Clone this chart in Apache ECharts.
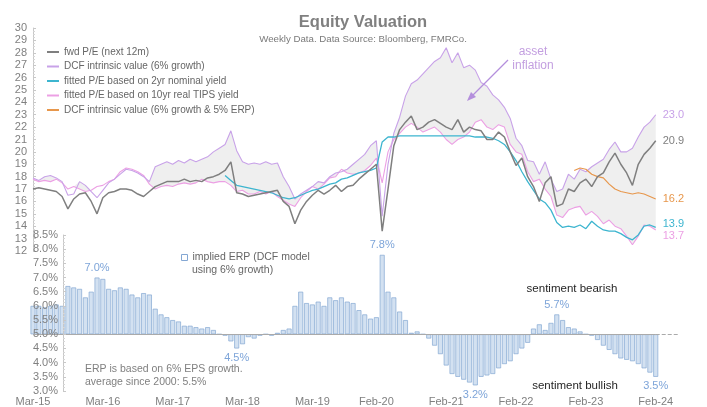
<!DOCTYPE html>
<html lang="en">
<head>
  <meta charset="UTF-8">
  <title>Equity Valuation</title>
  <script src="https://cdn.jsdelivr.net/npm/echarts@6/dist/echarts.min.js"></script>
  <style>
    html, body { margin: 0; padding: 0; background: #fff; }
    #chart { width: 707px; height: 407px; }
  </style>
</head>
<body>
  <div id="chart"></div>

  <script>
    // monthly readings, Mar-15 .. Feb-24 (index 0..107)
    const fwdPE = [17.0,17.1,17.0,16.9,16.8,16.4,15.4,16.2,16.6,16.7,16.0,15.0,
      16.3,16.7,16.8,17.0,17.0,16.9,16.6,16.4,16.8,17.2,17.4,17.6,
      17.6,17.6,17.8,17.6,17.7,17.6,17.9,18.0,18.2,18.5,19.2,16.7,
      16.6,16.4,16.5,16.6,16.7,16.8,16.9,16.0,15.6,14.2,15.3,16.0,
      16.5,16.9,16.6,16.9,17.3,16.8,17.2,17.3,17.8,18.2,18.6,19.0,
      13.6,17.0,20.5,21.8,22.4,22.9,21.8,22.0,22.4,22.6,22.3,22.0,
      21.8,22.6,21.6,22.0,21.8,21.7,21.0,21.0,21.6,21.2,20.0,18.9,
      19.5,18.0,17.2,16.0,17.5,18.0,15.6,15.8,17.0,16.8,17.5,17.8,
      17.2,18.0,18.3,19.2,19.9,19.0,18.3,17.3,19.0,19.8,20.3,20.9];
    const dcfGrowth = [17.9,17.7,18.0,18.1,17.9,17.6,16.5,16.6,17.6,17.3,16.8,16.3,
      16.9,17.5,17.8,18.2,18.6,18.5,18.3,18.0,17.6,18.8,19.0,19.2,
      19.0,19.3,19.1,19.4,19.2,19.4,19.6,20.0,20.3,20.6,21.7,20.1,
      19.2,19.0,19.1,19.0,19.2,19.0,19.1,18.0,17.2,16.2,16.6,16.9,
      17.2,17.6,17.5,18.0,18.3,18.4,18.6,19.0,19.4,19.8,20.5,20.9,
      14.8,19.0,21.5,22.8,24.5,25.5,25.8,26.3,26.8,27.3,27.6,28.4,
      27.2,28.0,26.8,27.0,26.6,25.6,25.3,24.6,24.2,23.6,22.7,21.1,
      20.5,19.3,19.2,18.2,19.2,17.8,16.8,17.0,18.2,17.8,18.6,18.4,
      18.8,19.1,19.4,20.2,20.8,20.0,20.0,20.3,21.2,22.0,22.4,23.0];
    const tipsFit = [17.8,17.6,17.7,17.6,17.8,17.5,17.0,17.2,17.0,16.8,16.9,17.2,
      17.3,17.6,17.8,18.4,18.7,18.6,18.4,18.1,17.4,17.0,17.2,17.3,
      17.2,17.4,17.5,17.4,17.5,17.8,17.6,17.5,17.6,17.6,17.3,16.8,
      16.9,16.6,16.6,16.8,16.6,16.8,16.4,16.1,15.8,15.6,16.3,16.8,
      17.2,17.0,17.4,17.9,18.0,18.6,18.3,18.2,18.3,18.5,18.9,19.5,
      17.5,20.0,21.0,21.5,22.0,22.3,22.0,21.6,21.8,22.0,21.6,21.0,
      20.6,21.0,21.2,21.6,22.4,22.6,22.0,21.8,22.2,22.0,20.6,20.0,
      19.8,18.4,17.6,17.8,17.0,16.4,14.9,14.7,15.3,15.5,15.6,14.9,
      15.2,14.8,14.2,14.5,14.0,13.8,13.2,12.5,13.2,14.1,14.0,13.7];
    // fitted P/E on 2yr nominal yield starts Dec-17 (index 33)
    const nominalStart = 33;
    const nominal2y = [18.1,17.7,17.3,17.2,17.1,17.0,16.9,16.8,16.7,16.5,16.3,16.2,
      16.3,16.5,16.7,16.9,17.0,17.2,17.4,17.5,17.8,17.9,18.1,18.3,18.4,18.5,18.7,
      20.8,21.2,21.2,21.3,21.3,21.3,21.3,21.3,21.3,21.3,21.3,21.3,21.3,21.3,21.3,21.3,
      21.2,21.2,21.2,21.1,20.9,20.6,20.0,19.3,18.4,17.6,16.9,16.2,15.9,15.3,14.3,
      13.9,14.0,13.9,14.1,13.8,14.4,14.0,13.7,13.6,13.6,13.4,13.1,12.9,13.3,14.0,14.1,13.9];
    // DCF with 5% ERP starts Dec-22 (index 93)
    const erpStart = 93;
    const dcfErp = [18.5,18.7,18.6,18.2,18.0,17.9,17.4,17.0,16.8,16.7,16.6,16.7,16.6,16.4,16.2];
    // implied ERP, %
    const erp = [6.0,6.0,5.95,6.0,6.05,6.0,6.7,6.65,6.6,6.3,6.5,7.0,
      6.95,6.6,6.55,6.65,6.6,6.4,6.3,6.45,6.4,5.9,5.7,5.6,
      5.5,5.45,5.3,5.3,5.25,5.2,5.25,5.15,5.0,4.95,4.75,4.5,
      4.65,4.9,4.85,4.95,5.0,4.95,5.05,5.15,5.2,6.0,6.5,6.1,
      6.05,6.15,6.0,6.3,6.2,6.3,6.15,6.1,5.85,5.7,5.55,5.6,
      7.8,6.5,6.3,5.8,5.5,5.05,5.1,5.0,4.85,4.6,4.3,3.9,
      3.6,3.5,3.4,3.3,3.2,3.5,3.55,3.6,3.8,3.95,4.05,4.3,
      4.5,4.7,5.2,5.35,5.15,5.4,5.7,5.5,5.25,5.2,5.1,5.0,
      4.95,4.8,4.6,4.45,4.3,4.15,4.1,4.05,3.95,3.8,3.65,3.5];
    const erpNotes = [11, 35, 60, 76, 90, 107];
    const erpBase = 5.0;

    const tickLabels = ['Mar-15','Mar-16','Mar-17','Mar-18','Mar-19','Feb-20','Feb-21','Feb-22','Feb-23','Feb-24'];
    const monthNames = ['Jan','Feb','Mar','Apr','May','Jun','Jul','Aug','Sep','Oct','Nov','Dec'];
    const months = [];
    for (let i = 0; i < 112; i++) {
      const m = 2 + i;
      months.push(monthNames[m % 12] + '-' + (15 + Math.floor(m / 12)));
    }

    const FONT = 'Liberation Sans, Arial, sans-serif';
    const GREY = '#808080';
    const C = {
      pe: '#7f7f7f', dcf: '#c8a2e8', nom: '#3db5cf', tips: '#eca0e4', erp5: '#e7974c',
      barFill: '#d3e1f1', barLine: '#84a7d3', note: '#7ea5d9'
    };

    const pad = (start, arr) => new Array(start).fill(null).concat(arr);

    function lineSeries(name, data, color, width, label, offset) {
      return {
        name: name, type: 'line', data: data, xAxisIndex: 0, yAxisIndex: 0,
        symbol: 'none', showSymbol: false, z: 3,
        lineStyle: { color: color, width: width }, itemStyle: { color: color },
        endLabel: {
          show: true, color: label, fontSize: 11, fontFamily: FONT, distance: 7,
          offset: offset || [0, 0],
          formatter: p => Number(p.value).toFixed(1)
        }
      };
    }

    const erpData = erp.map((v, i) => {
      const d = +(v - erpBase).toFixed(2);
      if (!erpNotes.includes(i)) return d;
      return {
        value: d,
        label: {
          show: true, position: d >= 0 ? 'top' : 'bottom', distance: 4,
          color: C.note, fontSize: 11, fontFamily: FONT,
          formatter: v.toFixed(1) + '%'
        }
      };
    });

    const chart = echarts.init(document.getElementById('chart'));
    chart.setOption({
      animation: false,
      backgroundColor: '#fff',
      textStyle: { fontFamily: FONT },
      title: {
        text: 'Equity Valuation',
        subtext: 'Weekly Data. Data Source: Bloomberg, FMRCo.',
        left: 358, top: 9, textAlign: 'center', itemGap: 3,
        textStyle: { fontSize: 16.5, fontWeight: 'bold', color: GREY, fontFamily: FONT },
        subtextStyle: { fontSize: 9.7, color: '#7a7a7a', fontFamily: FONT }
      },
      legend: [{
        orient: 'vertical', left: 47, top: 47, itemGap: 4.5, padding: 0,
        itemWidth: 12, itemHeight: 2, icon: 'rect',
        textStyle: { fontSize: 10, color: '#666', fontFamily: FONT },
        data: ['fwd P/E (next 12m)', 'DCF intrinsic value (6% growth)',
          'fitted P/E based on 2yr nominal yield', 'fitted P/E based on 10yr real TIPS yield',
          'DCF intrinsic value (6% growth & 5% ERP)']
      }, {
        left: 181, top: 252, padding: 0, itemWidth: 6, itemHeight: 6, icon: 'rect',
        itemStyle: { color: '#ffffff', borderColor: C.barLine, borderWidth: 1 },
        textStyle: { fontSize: 10.5, color: '#666', fontFamily: FONT },
        formatter: () => 'implied ERP (DCF model',
        data: ['implied ERP (DCF model using 6% growth)']
      }],
      grid: [
        { left: 33, right: 28, top: 28, bottom: 156 },
        { left: 33, right: 28, top: 235, bottom: 14 }
      ],
      xAxis: [{
        gridIndex: 0, type: 'category', data: months, boundaryGap: false, show: false
      }, {
        gridIndex: 1, type: 'category', data: months, boundaryGap: false,
        axisLine: { show: false, onZero: false }, axisTick: { show: false },
        splitLine: { show: false },
        axisLabel: {
          color: GREY, fontSize: 11, margin: 5, fontFamily: FONT,
          interval: (i, v) => tickLabels.includes(v)
        }
      }],
      yAxis: [{
        gridIndex: 0, type: 'value', min: 12, max: 30, interval: 1,
        axisLine: { show: true, lineStyle: { color: '#c8c8c8' } },
        axisTick: { show: true, inside: true, length: 3, lineStyle: { color: '#c8c8c8' } },
        minorTick: { show: true, splitNumber: 4, length: 2, lineStyle: { color: '#d6d6d6' } },
        splitLine: { show: false },
        axisLabel: { color: GREY, fontSize: 11, margin: 6, fontFamily: FONT }
      }, {
        gridIndex: 1, type: 'value', min: -2, max: 3.5, interval: 0.5, offset: -30, z: 6,
        axisLine: { show: true, lineStyle: { color: '#c8c8c8' } },
        axisTick: { show: true, inside: true, length: 3, lineStyle: { color: '#c8c8c8' } },
        minorTick: { show: true, splitNumber: 4, length: 2, lineStyle: { color: '#d6d6d6' } },
        splitLine: { show: false },
        axisLabel: {
          color: GREY, fontSize: 11, margin: 5, fontFamily: FONT,
          formatter: v => (v + erpBase).toFixed(1) + '%'
        }
      }],
      series: [
        {
          name: 'band-base', type: 'line', stack: 'band', data: tipsFit,
          symbol: 'none', silent: true, z: 1, lineStyle: { opacity: 0 }
        },
        {
          name: 'band-fill', type: 'line', stack: 'band',
          data: dcfGrowth.map((v, i) => Math.max(0, +(v - tipsFit[i]).toFixed(2))),
          symbol: 'none', silent: true, z: 1, lineStyle: { opacity: 0 },
          areaStyle: { color: '#efefef', opacity: 1 }
        },
        lineSeries('fitted P/E based on 10yr real TIPS yield', tipsFit, C.tips, 1.1, C.tips, [0, 6]),
        lineSeries('DCF intrinsic value (6% growth)', dcfGrowth, C.dcf, 1.1, C.dcf),
        lineSeries('fitted P/E based on 2yr nominal yield', pad(nominalStart, nominal2y), C.nom, 1.3, C.nom, [0, -3]),
        lineSeries('DCF intrinsic value (6% growth & 5% ERP)', pad(erpStart, dcfErp), C.erp5, 1.2, C.erp5),
        lineSeries('fwd P/E (next 12m)', fwdPE, C.pe, 1.5, GREY),
        {
          name: 'implied ERP (DCF model using 6% growth)', type: 'bar',
          xAxisIndex: 1, yAxisIndex: 1, data: erpData, barCategoryGap: '15%',
          itemStyle: { color: C.barFill, borderColor: C.barLine, borderWidth: 0.7 },
          markLine: {
            silent: true, symbol: 'none', label: { show: false },
            lineStyle: { color: '#aaaaaa', width: 1, type: 'solid' },
            data: [
              [{ coord: [months[0], 0] }, { coord: [months[107], 0] }],
              [{ coord: [months[107], 0], lineStyle: { type: 'dashed', color: '#aaaaaa' } },
               { coord: [months[111], 0] }]
            ]
          }
        }
      ],
      graphic: [
        { type: 'text', left: 192, top: 265,
          style: { text: 'using 6% growth)', fill: '#666', fontSize: 10.5, fontFamily: FONT } },
        { type: 'text', x: 533, y: 45,
          style: { text: 'asset\ninflation', fill: '#c39fe0', fontSize: 12, lineHeight: 14,
            align: 'center', fontFamily: FONT } },
        { type: 'line', z: 20, shape: { x1: 508, y1: 60, x2: 472, y2: 96 },
          style: { stroke: '#b48fdc', lineWidth: 1.3 } },
        { type: 'polygon', z: 20, shape: { points: [[467, 101], [476, 97], [471, 92]] },
          style: { fill: '#b48fdc' } },
        { type: 'text', x: 572, y: 289,
          style: { text: 'sentiment bearish', fill: '#262626', fontSize: 11.5,
            align: 'center', verticalAlign: 'middle', fontFamily: FONT } },
        { type: 'text', x: 575, y: 386,
          style: { text: 'sentiment bullish', fill: '#262626', fontSize: 11.5,
            align: 'center', verticalAlign: 'middle', fontFamily: FONT } },
        { type: 'text', x: 85, y: 363,
          style: { text: 'ERP is based on 6% EPS growth.\naverage since 2000: 5.5%', fill: GREY,
            fontSize: 10.5, lineHeight: 13, fontFamily: FONT } }
      ]
    });
  </script>
</body>
</html>
